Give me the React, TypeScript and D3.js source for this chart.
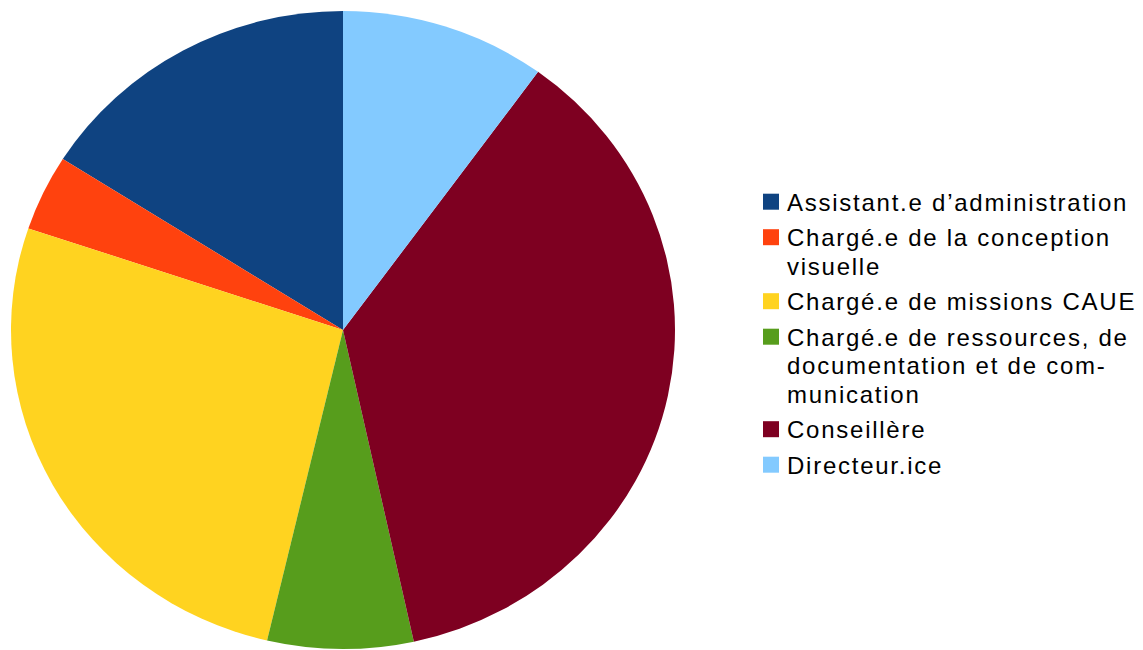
import * as React from "react";
import * as d3 from "d3";

// categories in legend order (drawn counter-clockwise from 12 o'clock)
const categories = [
  "Assistant.e d’administration",
  "Chargé.e de la conception visuelle",
  "Chargé.e de missions CAUE",
  "Chargé.e de ressources, de documentation et de communication",
  "Conseillère",
  "Directeur.ice",
];
const values = [16.0, 3.85, 26.5, 7.1, 36.6, 10.0];
const colors = ["#0f4381", "#ff420e", "#ffd320", "#579d1c", "#7e0021", "#83caff"];
// legend label lines as wrapped in the original
const legendLines = [
  ["Assistant.e d’administration"],
  ["Chargé.e de la conception", "visuelle"],
  ["Chargé.e de missions CAUE"],
  ["Chargé.e de ressources, de", "documentation et de com-", "munication"],
  ["Conseillère"],
  ["Directeur.ice"],
];

const W = 1143;
const H = 650;
const cx = 343;
const cy = 330;
const rx = 332;
const ry = 319;

const App = () => {
  const pie = d3
    .pie<number>()
    .value(d => d)
    .sort(null)
    .startAngle(0)
    .endAngle(-2 * Math.PI);
  const arc = d3.arc<d3.PieArcDatum<number>>().innerRadius(0).outerRadius(ry);
  const arcs = pie(values);

  const lineH = 28.5;
  const gap = 7;
  let y = 210.7;
  const legend = legendLines.map((lines, i) => {
    const item = { lines, y, color: colors[i], name: categories[i] };
    y += lines.length * lineH + gap;
    return item;
  });

  return (
    <svg
      width={W}
      height={H}
      style={{ position: "absolute", left: 0, top: 0 }}
      fontFamily="'Liberation Sans', Arial, sans-serif"
    >
      <rect width={W} height={H} fill="#fff" />
      <g transform={`translate(${cx} ${cy}) scale(${rx / ry} 1)`}>
        {arcs.map((a, i) => (
          <path key={i} d={arc(a) || ""} fill={colors[i]} />
        ))}
      </g>
      <g>
        {legend.map((it, i) => (
          <g key={i}>
            <rect x={763} y={it.y - 17} width={16} height={16} fill={it.color} />
            {it.lines.map((l, j) => (
              <text
                key={j}
                x={787}
                y={it.y + j * lineH}
                fontSize={24}
                letterSpacing={1.75}
                fill="#000"
              >
                {l}
              </text>
            ))}
          </g>
        ))}
      </g>
    </svg>
  );
};

export default App;
